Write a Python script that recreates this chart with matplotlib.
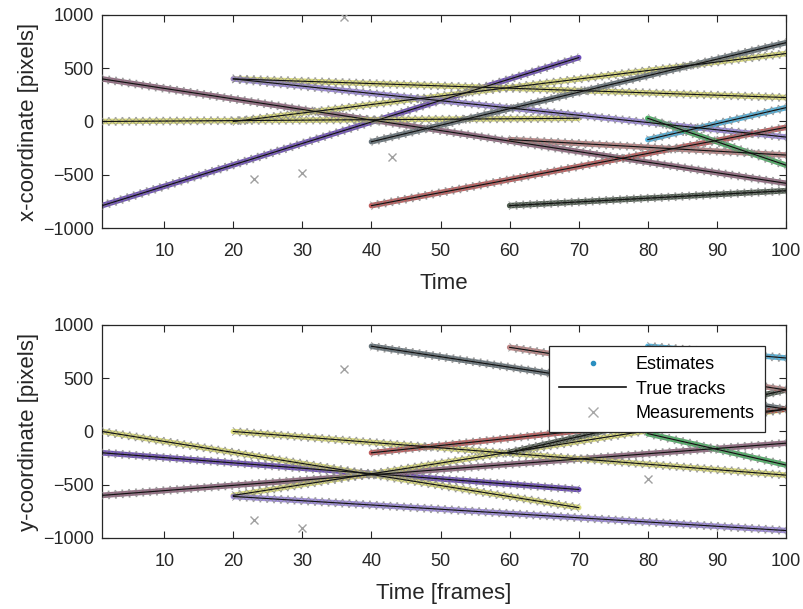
import numpy as np
import matplotlib
matplotlib.use("Agg")
import matplotlib.pyplot as plt
from matplotlib.lines import Line2D
from matplotlib.patheffects import TickedStroke

plt.rcParams['font.family'] = ['Liberation Sans', 'DejaVu Sans']

# ---- data: straight target tracks (start/end frames and coordinates) ----
track_colors = ['#4a22a8', '#7a4462', '#d4d45c', '#d4d45c', '#d4d45c', '#8a72d8',
                '#3f4f58', '#b03434', '#1e2e1e', '#b06a6a', '#2aa2d6', '#22a040']
t_start = [1, 1, 1, 20, 20, 20, 40, 40, 60, 60, 80, 80]
t_end   = [70, 100, 70, 100, 100, 100, 100, 100, 100, 100, 100, 100]
x_start = [-790, 400, 0, 400, 0, 400, -190, -790, -790, -170, -170, 30]
x_end   = [600, -580, 30, 225, 638, -146, 740, -55, -650, -315, 130, -410]
y_start = [-200, -600, 0, 0, -600, -610, 800, -200, -195, 790, 800, -20]
y_end   = [-545, -110, -715, -410, 210, -930, 210, 210, 390, 390, 690, -315]

# clutter measurements
clutter_t_x = [23, 30, 36, 43]
clutter_x   = [-540, -480, 980, -335]
clutter_t_y = [23, 30, 36, 80]
clutter_y   = [-830, -910, 590, -450]

xticks = [10, 20, 30, 40, 50, 60, 70, 80, 90, 100]
yticks = [-1000, -500, 0, 500, 1000]

fig = plt.figure(figsize=(8.04, 6.09), dpi=100)
ax1 = fig.add_axes([0.1269, 0.6256, 0.8507, 0.3498])
ax2 = fig.add_axes([0.1269, 0.1166, 0.8507, 0.3498])

xmark = [TickedStroke(spacing=4.9, angle=a, length=0.8, linewidth=0.7,
                      foreground='#8a8a8a', alpha=0.75) for a in (45, 135, -45, -135)]


def draw(ax, starts, ends, ct, cv):
    for c, ts, te, vs, ve in zip(track_colors, t_start, t_end, starts, ends):
        tt = [ts, te]
        vv = [vs, ve]
        ax.plot(tt, vv, color=c, lw=4.0, alpha=0.8, solid_capstyle='round', zorder=2)
        ax.plot(tt, vv, color='#8a8a8a', lw=0.7, path_effects=xmark, zorder=3)
        ax.plot(tt, vv, color='#111111', lw=0.8, zorder=4)
    ax.plot(ct, cv, 'x', color='#a0a0a0', ms=6, mew=1.0, zorder=5)
    ax.set_xlim(1, 100)
    ax.set_ylim(-1000, 1000)
    ax.set_xticks(xticks)
    ax.set_yticks(yticks)
    ax.tick_params(direction='in', top=True, right=True, length=5, width=0.8,
                   labelsize=13, colors='#262626')
    ax.tick_params(axis='x', pad=11)
    ax.tick_params(axis='y', pad=6)
    for s in ax.spines.values():
        s.set_color('#262626')
        s.set_linewidth(0.9)


draw(ax1, x_start, x_end, clutter_t_x, clutter_x)
draw(ax2, y_start, y_end, clutter_t_y, clutter_y)

ax1.set_xlabel('Time', fontsize=16, color='#262626', labelpad=9)
ax1.set_ylabel('x-coordinate [pixels]', fontsize=16, color='#262626', labelpad=3)
ax2.set_xlabel('Time [frames]', fontsize=16, color='#262626', labelpad=9)
ax2.set_ylabel('y-coordinate [pixels]', fontsize=16, color='#262626', labelpad=3)

handles = [Line2D([], [], marker='.', ls='none', color='#2a8fc0', ms=6),
           Line2D([], [], color='#111111', lw=1.2),
           Line2D([], [], marker='x', ls='none', color='#a8a8a8', ms=7, mew=1.0)]
leg = ax2.legend(handles, ['Estimates', 'True tracks', 'Measurements'],
                 loc='upper right', bbox_to_anchor=(0.969, 0.901), borderaxespad=0,
                 fontsize=13, handlelength=3.7, handletextpad=0.55, labelspacing=0.42,
                 borderpad=0.55, fancybox=False, framealpha=1, edgecolor='#262626')
leg.get_frame().set_linewidth(0.9)
leg.set_zorder(10)

fig.savefig('out.png', dpi=100)
